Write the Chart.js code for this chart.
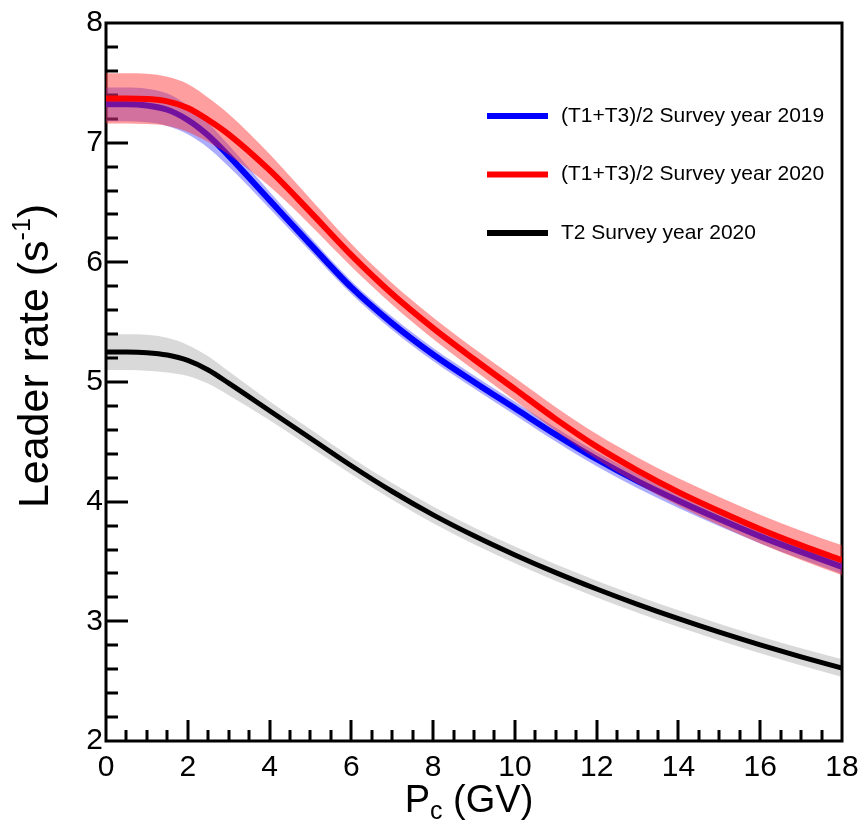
<!DOCTYPE html>
<html lang="en">
<head>
<meta charset="utf-8"/>
<title>Leader rate vs cutoff rigidity</title>
<script src="https://cdn.jsdelivr.net/npm/chart.js"></script>
<style>
  body { margin: 0; background: #fff; }
  #wrap { width: 862px; height: 827px; }
</style>
</head>
<body>
<div id="wrap"><canvas id="rateChart" width="862" height="827"></canvas></div>
<script>
// cutoff rigidity Pc (GV), denser near the knee
const pc = [0, 0.5, 1, 1.5, 2, 2.5, 3, 4, 5, 6, 7, 8, 9, 10, 11, 12, 13, 14, 15, 16, 17, 18];

// (T1+T3)/2, survey year 2019
const rate2019 = [7.32, 7.32, 7.31, 7.275, 7.19, 7.06, 6.89, 6.52, 6.15, 5.79, 5.49, 5.23, 5.00, 4.78, 4.56, 4.355, 4.172, 4.008, 3.855, 3.71, 3.58, 3.455];
const err2019  = [0.14, 0.14, 0.14, 0.135, 0.12, 0.105, 0.09, 0.07, 0.06, 0.055, 0.055, 0.055, 0.055, 0.055, 0.058, 0.06, 0.06, 0.06, 0.06, 0.06, 0.06, 0.06];

// (T1+T3)/2, survey year 2020
const rate2020 = [7.37, 7.37, 7.365, 7.345, 7.29, 7.19, 7.07, 6.77, 6.42, 6.06, 5.735, 5.45, 5.19, 4.94, 4.69, 4.46, 4.26, 4.08, 3.92, 3.77, 3.635, 3.51];
const err2020  = [0.21, 0.21, 0.21, 0.205, 0.20, 0.185, 0.17, 0.135, 0.11, 0.095, 0.09, 0.09, 0.09, 0.095, 0.10, 0.105, 0.11, 0.115, 0.118, 0.12, 0.122, 0.125];

// T2, survey year 2020
const rateT2 = [5.25, 5.25, 5.245, 5.225, 5.18, 5.10, 4.99, 4.76, 4.53, 4.30, 4.085, 3.89, 3.715, 3.555, 3.407, 3.27, 3.142, 3.022, 2.909, 2.803, 2.703, 2.609];
const errT2  = [0.15, 0.15, 0.15, 0.145, 0.13, 0.115, 0.10, 0.08, 0.075, 0.07, 0.07, 0.07, 0.07, 0.07, 0.07, 0.07, 0.07, 0.07, 0.07, 0.07, 0.072, 0.075];

const xTicks = [0, 2, 4, 6, 8, 10, 12, 14, 16, 18];
const yTicks = [2, 3, 4, 5, 6, 7, 8];

const FONT = "'Liberation Sans', Arial, sans-serif";

const pts = (vals, sign, err) => pc.map((p, i) => ({ x: p, y: vals[i] + sign * (err ? err[i] : 0) }));

function curve(label, vals, color, width, order) {
  return {
    label: label, data: pts(vals, 0), borderColor: color, borderWidth: width,
    pointRadius: 0, fill: false, cubicInterpolationMode: 'monotone', order: order, isCurve: true
  };
}
function band(vals, err, color, order) {
  return [
    { data: pts(vals, 1, err), borderWidth: 0, pointRadius: 0, backgroundColor: color,
      fill: '+1', cubicInterpolationMode: 'monotone', order: order },
    { data: pts(vals, -1, err), borderWidth: 0, pointRadius: 0,
      fill: false, cubicInterpolationMode: 'monotone', order: order }
  ];
}

const datasets = [
  curve('(T1+T3)/2 Survey year 2019', rate2019, '#0000ff', 6, 2),
  curve('(T1+T3)/2 Survey year 2020', rate2020, '#ff0000', 6, 0),
  curve('T2 Survey year 2020', rateT2, '#000000', 5, 4),
  ...band(rate2020, err2020, 'rgba(255,40,40,0.45)', 1),
  ...band(rate2019, err2019, 'rgba(40,40,255,0.38)', 3),
  ...band(rateT2, errT2, 'rgba(0,0,0,0.15)', 5)
];

// frame with inward major/minor ticks, axis titles and the legend
const framePlugin = {
  id: 'frame',
  beforeDatasetsDraw(chart) {
    const { ctx, chartArea: a, scales: { x, y } } = chart;
    ctx.save();
    ctx.strokeStyle = '#000';
    ctx.lineWidth = 3;
    ctx.beginPath();
    for (let i = 1; i < 36; i++) {
      const px = Math.round(x.getPixelForValue(i * 0.5));
      const len = (i % 4 === 0) ? 21 : 11;
      ctx.moveTo(px, a.bottom);
      ctx.lineTo(px, a.bottom - len);
    }
    for (let i = 1; i < 30; i++) {
      const py = Math.round(y.getPixelForValue(2 + i * 0.2));
      const len = (i % 5 === 0) ? 22 : 12;
      ctx.moveTo(a.left, py);
      ctx.lineTo(a.left + len, py);
    }
    ctx.stroke();
    ctx.strokeRect(a.left, a.top, a.right - a.left, a.bottom - a.top);
    ctx.restore();
  },
  afterDraw(chart) {
    const { ctx, chartArea: a } = chart;
    ctx.save();
    ctx.fillStyle = '#000';
    ctx.textBaseline = 'alphabetic';

    // x title: Pc (GV)
    const big = '38px ' + FONT, sub = '25px ' + FONT;
    ctx.font = big;
    const w1 = ctx.measureText('P').width, w3 = ctx.measureText(' (GV)').width;
    ctx.font = sub;
    const w2 = ctx.measureText('c').width;
    const xs = 469 - (w1 + w2 + w3) / 2;
    const xb = 812;
    ctx.font = big;
    ctx.fillText('P', xs, xb);
    ctx.font = sub;
    ctx.fillText('c', xs + w1, xb + 7);
    ctx.font = big;
    ctx.fillText(' (GV)', xs + w1 + w2, xb);

    // y title: Leader rate (s^-1)
    ctx.translate(48, 356);
    ctx.rotate(-Math.PI / 2);
    const ybig = '43px ' + FONT, ysup = '25px ' + FONT;
    ctx.font = ybig;
    const v1 = ctx.measureText('Leader rate (s').width, v3 = ctx.measureText(')').width;
    ctx.font = ysup;
    const v2 = ctx.measureText('-1').width;
    const ys = -(v1 + v2 + v3) / 2;
    ctx.font = ybig;
    ctx.fillText('Leader rate (s', ys, 0);
    ctx.font = ysup;
    ctx.fillText('-1', ys + v1, -18);
    ctx.font = ybig;
    ctx.fillText(')', ys + v1 + v2, 0);
    ctx.restore();

    // legend inside the plot
    ctx.save();
    ctx.font = '21px ' + FONT;
    ctx.textBaseline = 'middle';
    chart.data.datasets.filter(d => d.isCurve).forEach((d, i) => {
      const yy = a.top + 93 + i * 58.5;
      ctx.fillStyle = d.borderColor;
      ctx.fillRect(487, yy - 3, 61, 6);
      ctx.fillStyle = '#000';
      ctx.fillText(d.label, 561, yy);
    });
    ctx.restore();
  }
};

new Chart(document.getElementById('rateChart'), {
  type: 'line',
  data: { datasets: datasets },
  options: {
    responsive: false,
    animation: false,
    devicePixelRatio: 1,
    layout: { padding: { left: 0, right: 20, top: 23, bottom: 0 } },
    plugins: { legend: { display: false }, tooltip: { enabled: false } },
    scales: {
      x: {
        type: 'linear', min: 0, max: 18,
        afterFit: s => { s.height = 86; s.paddingLeft = 0; s.paddingRight = 0; },
        afterBuildTicks: s => { s.ticks = xTicks.map(v => ({ value: v })); },
        grid: { display: false, drawTicks: false },
        border: { display: false },
        ticks: { color: '#000', padding: 9, font: { family: FONT, size: 30 } }
      },
      y: {
        type: 'linear', min: 2, max: 8,
        afterFit: s => { s.width = 106; s.paddingTop = 0; s.paddingBottom = 0; },
        afterBuildTicks: s => { s.ticks = yTicks.map(v => ({ value: v })); },
        grid: { display: false, drawTicks: false },
        border: { display: false },
        ticks: { color: '#000', padding: 3, font: { family: FONT, size: 30 } }
      }
    }
  },
  plugins: [framePlugin]
});
</script>
</body>
</html>
